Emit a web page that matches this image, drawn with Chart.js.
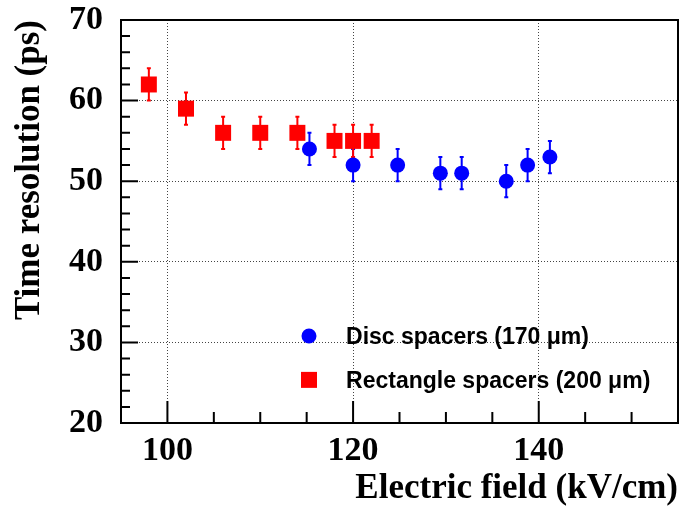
<!DOCTYPE html>
<html>
<head>
<meta charset="utf-8">
<script src="https://cdn.jsdelivr.net/npm/chart.js@4/dist/chart.umd.min.js"></script>
<style>
    html, body { margin: 0; padding: 0; background: #fff; }
</style>
</head>
<body>
<canvas id="timeChart" width="680" height="506"></canvas>
<script>
    // data
    var discField = [115.3, 120, 124.8, 129.4, 131.7, 136.5, 138.8, 141.2];
    var discRes   = [54, 52, 52, 51, 51, 50, 52, 53];
    var discErr   = [2, 2, 2, 2, 2, 2, 2, 2];

    var rectField = [98, 102, 106, 110, 114, 118, 120, 122];
    var rectRes   = [62, 59, 56, 56, 56, 55, 55, 55];
    var rectErr   = [2, 2, 2, 2, 2, 2, 2, 2];

    var xTicks = [100, 120, 140];
    var yTicks = [20, 30, 40, 50, 60, 70];
    var legendLabels = ["Disc spacers (170 \u03BCm)", "Rectangle spacers (200 \u03BCm)"];
    var xTitle = "Electric field (kV/cm)";
    var yTitle = "Time resolution (ps)";

    var serif = '"Liberation Serif", "Times New Roman", serif';
    var sans = '"Liberation Sans", Arial, sans-serif';

    function toPoints(xs, ys, errs) {
        return xs.map(function (x, i) {
            return { x: x, y: ys[i], err: errs[i] };
        });
    }

    // vertical error bars with small caps
    var errorBars = {
        id: 'errorBars',
        beforeDatasetsDraw: function (chart) {
            var ctx = chart.ctx, xs = chart.scales.x, ys = chart.scales.y;
            chart.data.datasets.forEach(function (ds) {
                ctx.save();
                ctx.strokeStyle = ds.backgroundColor;
                ctx.lineWidth = 2;
                ds.data.forEach(function (p) {
                    var px = xs.getPixelForValue(p.x);
                    var hi = ys.getPixelForValue(p.y + p.err);
                    var lo = ys.getPixelForValue(p.y - p.err);
                    ctx.beginPath();
                    ctx.moveTo(px, hi); ctx.lineTo(px, lo);
                    ctx.moveTo(px - 2, hi); ctx.lineTo(px + 2, hi);
                    ctx.moveTo(px - 2, lo); ctx.lineTo(px + 2, lo);
                    ctx.stroke();
                });
                ctx.restore();
            });
        }
    };

    // ROOT-like frame with inward ticks, plus the in-plot legend
    var frameAndLegend = {
        id: 'frameAndLegend',
        afterDraw: function (chart) {
            var ctx = chart.ctx, a = chart.chartArea;
            var xs = chart.scales.x, ys = chart.scales.y;
            ctx.save();
            ctx.strokeStyle = '#000';
            ctx.lineWidth = 2;
            ctx.strokeRect(a.left, a.top, a.right - a.left, a.bottom - a.top);

            ctx.beginPath();
            for (var v = 22; v < 70; v += 2) {
                var py = ys.getPixelForValue(v);
                var len = (v % 10 === 0) ? 17 : 9;
                ctx.moveTo(a.left, py); ctx.lineTo(a.left + len, py);
            }
            for (var u = 100; u < 155; u += 5) {
                var px = xs.getPixelForValue(u);
                var l2 = (u % 20 === 0) ? 22 : 11;
                ctx.moveTo(px, a.bottom); ctx.lineTo(px, a.bottom - l2);
            }
            ctx.stroke();

            // legend
            var w = a.right - a.left, h = a.bottom - a.top;
            var mx = a.left + 0.3375 * w;
            var tx = a.left + 0.404 * w;
            var rows = [a.top + 0.784 * h, a.top + 0.893 * h];
            ctx.font = 'bold 23px ' + sans;
            ctx.textBaseline = 'middle';
            ctx.textAlign = 'left';
            chart.data.datasets.forEach(function (ds, i) {
                var y = rows[i];
                ctx.fillStyle = ds.backgroundColor;
                ctx.beginPath();
                if (ds.pointStyle === 'rect') {
                    ctx.rect(mx - 8, y - 8, 16, 16);
                } else {
                    ctx.arc(mx, y, 7.5, 0, Math.PI * 2);
                }
                ctx.fill();
                ctx.fillStyle = '#000';
                ctx.fillText(legendLabels[i], tx, y + 2);
            });
            ctx.restore();
        }
    };

    new Chart(document.getElementById('timeChart').getContext('2d'), {
        type: 'scatter',
        data: {
            datasets: [{
                label: legendLabels[0],
                data: toPoints(discField, discRes, discErr),
                backgroundColor: '#0000ff',
                borderWidth: 0,
                pointStyle: 'circle',
                pointRadius: 7.5,
                pointHoverRadius: 7.5
            }, {
                label: legendLabels[1],
                data: toPoints(rectField, rectRes, rectErr),
                backgroundColor: '#ff0000',
                borderWidth: 0,
                pointStyle: 'rect',
                pointRadius: 11.3,
                pointHoverRadius: 11.3
            }]
        },
        options: {
            responsive: false,
            animation: false,
            events: [],
            layout: { autoPadding: false, padding: { top: 20, right: 2, bottom: 0, left: 0 } },
            plugins: {
                legend: { display: false },
                tooltip: { enabled: false }
            },
            scales: {
                x: {
                    type: 'linear',
                    min: 95,
                    max: 155,
                    afterBuildTicks: function (s) {
                        s.ticks = xTicks.map(function (v) { return { value: v }; });
                    },
                    afterFit: function (s) {
                        s.height = 83;
                        s.paddingLeft = 0;
                        s.paddingRight = 0;
                    },
                    grid: { color: '#444', lineWidth: 1, drawTicks: false },
                    border: { display: false, dash: [1, 2] },
                    ticks: {
                        color: '#000',
                        padding: 8,
                        font: { family: serif, size: 34, weight: 'bold' }
                    },
                    title: {
                        display: true,
                        text: xTitle,
                        align: 'end',
                        color: '#000',
                        padding: { top: 0, bottom: 0 },
                        font: { family: serif, size: 35, weight: 'bold', lineHeight: 1 }
                    }
                },
                y: {
                    type: 'linear',
                    min: 20,
                    max: 70,
                    afterBuildTicks: function (s) {
                        s.ticks = yTicks.map(function (v) { return { value: v }; });
                    },
                    afterFit: function (s) {
                        s.width = 121;
                        s.paddingTop = 0;
                        s.paddingBottom = 0;
                    },
                    grid: { color: '#444', lineWidth: 1, drawTicks: false },
                    border: { display: false, dash: [1, 2] },
                    ticks: {
                        color: '#000',
                        padding: 18,
                        font: { family: serif, size: 34, weight: 'bold', lineHeight: 1 }
                    },
                    title: {
                        display: true,
                        text: yTitle,
                        align: 'end',
                        color: '#000',
                        padding: { top: 12, bottom: 0 },
                        font: { family: serif, size: 35, weight: 'bold', lineHeight: 1 }
                    }
                }
            }
        },
        plugins: [errorBars, frameAndLegend]
    });
</script>
</body>
</html>
